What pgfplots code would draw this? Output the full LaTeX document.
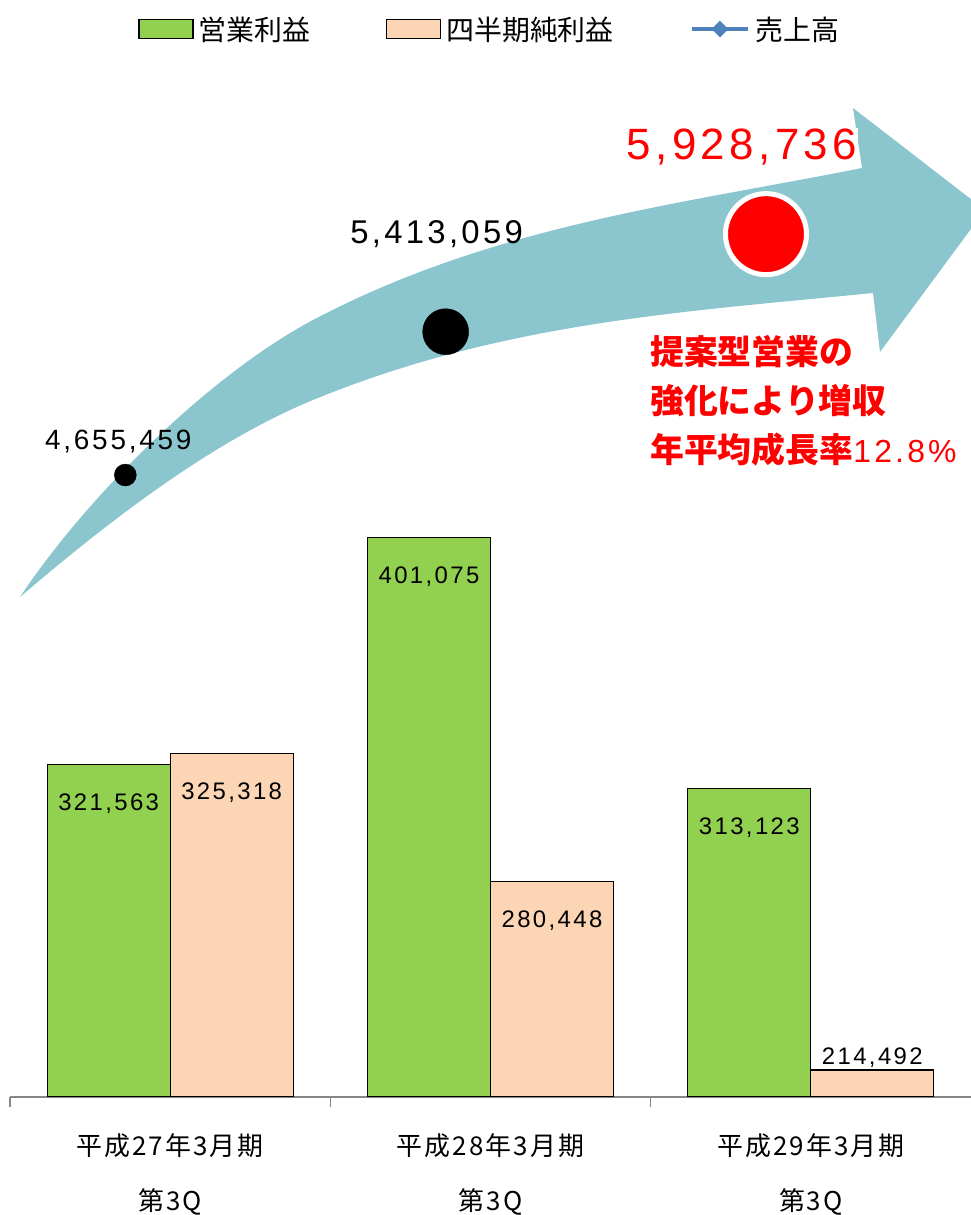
\documentclass[border=0pt]{standalone}
\usepackage{fontspec}
\setmainfont{Noto Sans CJK JP}
\newfontfamily\tickfont[LetterSpace=8]{Noto Sans CJK JP}
\newfontfamily\numfont[LetterSpace=10]{Liberation Sans}
\newfontfamily\pctfont[LetterSpace=10]{Liberation Sans}
\usepackage{pgfplots}
\pgfplotsset{compat=1.18}
\usepackage{pgfplotstable}
\definecolor{gbar}{HTML}{92D050}
\definecolor{pbar}{HTML}{FCD5B5}
\definecolor{arrowc}{HTML}{8BC6CE}
\definecolor{sblue}{HTML}{4F81BD}
\definecolor{axgray}{HTML}{868686}
\pgfplotsset{barleg/.style={legend image code/.code={\draw[##1] (0bp,-9.5bp) rectangle (54bp,9.5bp);}}}

\pgfplotstableread{
x op oplab
0 321563 321,563
1 401075 401,075
2 313123 313,123
}\optable
\pgfplotstableread{
x net netlab
0 325318 325,318
1 280448 280,448
2 214492 214,492
}\nettable
\pgfplotstableread{
x sales saleslab
0 4655459 4,655,459
1 5413059 5,413,059
2 5928736 5,928,736
}\salestable

\begin{document}
\begin{tikzpicture}
\path[use as bounding box] (0,0) rectangle (971bp,1215bp);
% decorative arrow
\begin{scope}[x=1bp,y=-1bp,shift={(0,-1215)}]
\fill[arrowc] (20,597) .. controls (90,492) and (213,373) .. (313,320)
  .. controls (493,225) and (682,204) .. (862,168)
  -- (853,108) -- (985,210) -- (880,352) -- (873,293)
  .. controls (683,312) and (503,322) .. (313,400)
  .. controls (213,441) and (110,520) .. (20,597) -- cycle;
\end{scope}

\begin{axis}[
  at={(10bp,118bp)}, anchor=south west,
  scale only axis, width=961bp, height=999.25bp,
  xmin=-0.5, xmax=2.5, ymin=205000, ymax=555000,
  axis x line=bottom, axis y line=none, ytick=\empty,
  x axis line style={-, draw=axgray, line width=1.5bp},
  ybar, bar width=123bp,
  xtick={0,1,2},
  xticklabels={{平成27年3月期\\[24bp]第3Q},{平成28年3月期\\[24bp]第3Q},{平成29年3月期\\[24bp]第3Q}},
  xticklabel style={align=center, font=\tickfont\fontsize{26}{31}\selectfont, yshift=-33bp},
  major tick length=0pt,
  extra x ticks={-0.5,0.5,1.5}, extra x tick labels={},
  extra x tick style={major tick length=10bp, tick align=outside, tick style={draw=axgray, line width=1.2bp}},
  legend style={at={(0.1332,1.0688)}, anchor=west, draw=none, fill=none, inner sep=0pt,
    legend columns=3, font=\fontsize{28}{32}\selectfont,
    /tikz/every odd column/.append style={column sep=3bp},
    /tikz/every even column/.append style={column sep=74bp}},
]
\addplot[fill=gbar, draw=black, line width=1.3bp, bar shift=-61.5bp,
  nodes near coords, point meta=explicit symbolic,
  every node near coord/.append style={anchor=center, yshift=-39bp, font=\numfont\fontsize{24}{28}\selectfont, text=black},
  barleg]
  table[x=x, y=op, meta=oplab] {\optable};
\addlegendentry{営業利益}
\addplot[fill=pbar, draw=black, line width=1.3bp, bar shift=61.5bp,
  restrict x to domain=-0.5:1.5,
  nodes near coords, point meta=explicit symbolic,
  every node near coord/.append style={anchor=center, yshift=-39bp, font=\numfont\fontsize{24}{28}\selectfont, text=black},
  barleg]
  table[x=x, y=net, meta=netlab] {\nettable};
\addlegendentry{四半期純利益}
\addplot[fill=pbar, draw=black, line width=1.3bp, bar shift=61.5bp, forget plot,
  restrict x to domain=1.5:2.5,
  nodes near coords, point meta=explicit symbolic,
  every node near coord/.append style={anchor=center, yshift=12bp, font=\numfont\fontsize{24}{28}\selectfont, text=black}]
  table[x=x, y=net, meta=netlab] {\nettable};
\addlegendimage{sblue, legend image code/.code={%
  \draw[sblue, line width=4.5bp] (0bp,0bp) -- (56bp,0bp);
  \fill[sblue] (28bp,8bp) -- (36bp,0bp) -- (28bp,-8bp) -- (20bp,0bp) -- cycle;}}
\addlegendentry{売上高}
\end{axis}

\begin{axis}[
  at={(10bp,118bp)}, anchor=south west,
  scale only axis, width=961bp, height=999.25bp,
  xmin=-0.36, xmax=2.64, ymin=1368300, ymax=6649700,
  hide axis, clip=false]
\addplot[only marks, mark=*, mark size=11bp, black, restrict x to domain=-0.5:0.5,
  nodes near coords, point meta=explicit symbolic,
  every node near coord/.append style={anchor=center, xshift=-7bp, yshift=34bp, font=\numfont\fontsize{28}{32}\selectfont, text=black}]
  table[x=x, y=sales, meta=saleslab] {\salestable};
\addplot[only marks, mark=*, mark size=23bp, black, restrict x to domain=0.5:1.5,
  nodes near coords, point meta=explicit symbolic,
  every node near coord/.append style={anchor=center, xshift=-9bp, yshift=98bp, font=\numfont\fontsize{33}{38}\selectfont, text=black}]
  table[x=x, y=sales, meta=saleslab] {\salestable};
\addplot[only marks, mark=*, mark size=40.5bp, mark options={fill=red, draw=white, line width=5bp}, restrict x to domain=1.5:2.5,
  nodes near coords, point meta=explicit symbolic,
  every node near coord/.append style={anchor=center, xshift=-24bp, yshift=87bp, font=\numfont\fontsize{44}{50}\selectfont, text=red, fill=white, inner sep=1bp}]
  table[x=x, y=sales, meta=saleslab] {\salestable};
\end{axis}

\node[anchor=west, align=left, text=red, font=\bfseries\fontsize{34}{49}\selectfont, inner sep=0pt] at (650bp,814bp)
  {提案型営業の\\強化により増収\\年平均成長率{\pctfont\mdseries\fontsize{32}{49}\selectfont 12.8\%}};
\end{tikzpicture}
\end{document}
